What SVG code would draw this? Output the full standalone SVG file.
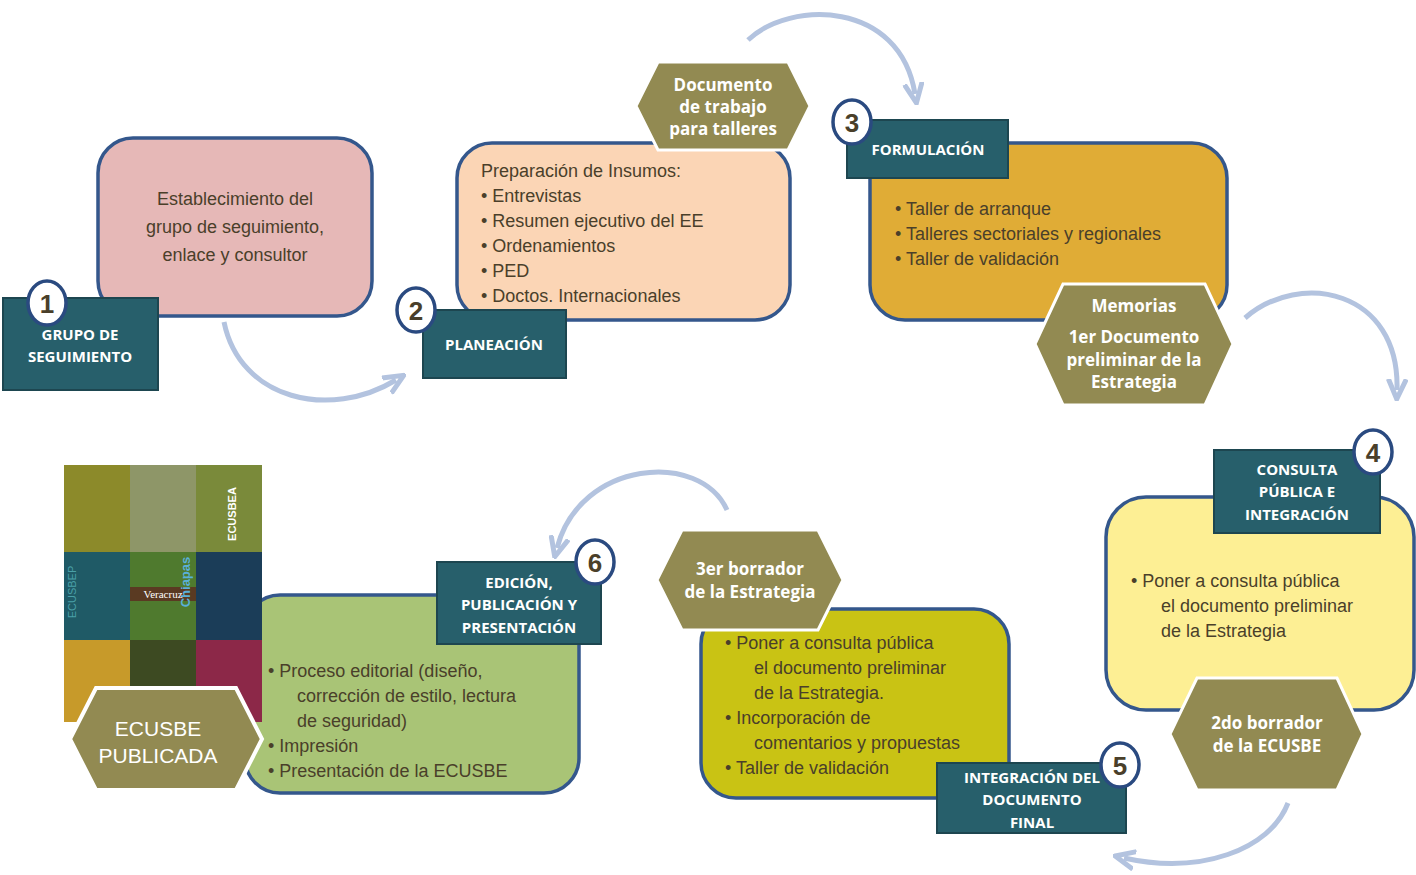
<svg xmlns="http://www.w3.org/2000/svg" width="1416" height="875" viewBox="0 0 1416 875">
<defs>
<marker id="ah" markerWidth="10" markerHeight="10" refX="5" refY="5" orient="auto" markerUnits="userSpaceOnUse" viewBox="0 0 10 10"><path d="M0,0 L10,5 L0,10 L3,5 Z" fill="#b3c3df"/></marker>
<marker id="ahb" markerWidth="22" markerHeight="22" refX="11" refY="11" orient="auto" markerUnits="userSpaceOnUse" viewBox="0 0 22 22"><path d="M0,2 L20,11 L0,20" fill="none" stroke="#b3c3df" stroke-width="5"/></marker>
</defs>
<style>
.box{stroke:#34578c;stroke-width:3.5}
.lab{fill:#275f6b;stroke:#1d4650;stroke-width:2}
.lt{fill:#fff;font-family:"Open Sans","Liberation Sans",sans-serif;font-weight:bold;font-size:15px;text-anchor:middle}
.hex{fill:#928a52;stroke:#fff;stroke-width:3}
.ht{fill:#fff;font-family:"Open Sans","Liberation Sans",sans-serif;font-weight:bold;font-size:17px;text-anchor:middle}
.bt{fill:#4a3f2a;font-family:"Liberation Sans",sans-serif;font-size:18px}
.num{fill:#fff;stroke:#2a4a80;stroke-width:3.5}
.nt{fill:#4a3f2a;font-family:"Liberation Sans",sans-serif;font-weight:bold;font-size:26px;text-anchor:middle}
.arr{fill:none;stroke:#b3c3df;stroke-width:5}
</style>
<rect width="1416" height="875" fill="#fff"/>
<g id="connectors">
<path class="arr" d="M224,322 C240,400 330,420 396,380" marker-end="url(#ahb)"/>
<path class="arr" d="M748,40 C790,0 900,0 915,94" marker-end="url(#ahb)"/>
<path class="arr" d="M1245,318 C1300,270 1400,290 1397,390" marker-end="url(#ahb)"/>
<path class="arr" d="M1288,803 C1270,850 1200,875 1124,858" marker-end="url(#ahb)"/>
<path class="arr" d="M727,510 C700,450 580,460 557,548" marker-end="url(#ahb)"/>
</g>
<g id="node1">
<rect class="box" x="98" y="138" width="274" height="178" rx="35" fill="#e6b8b7"/>
<text class="bt" font-size="21" text-anchor="middle" x="235"><tspan x="235" y="205">Establecimiento del</tspan><tspan x="235" y="233">grupo de seguimiento,</tspan><tspan x="235" y="261">enlace y consultor</tspan></text>
<rect class="lab" x="3" y="298" width="155" height="92"/>
<text class="lt"><tspan x="80" y="340">GRUPO DE</tspan><tspan x="80" y="362">SEGUIMIENTO</tspan></text>
<ellipse class="num" cx="47" cy="303" rx="19" ry="22"/><text class="nt" x="47" y="313">1</text>
</g>
<g id="node2">
<rect class="box" x="457" y="143" width="333" height="177" rx="35" fill="#fbd5b5"/>
<text class="bt"><tspan x="481" y="177">Preparación de Insumos:</tspan><tspan x="481" y="202">•    Entrevistas</tspan><tspan x="481" y="227">•    Resumen ejecutivo del EE</tspan><tspan x="481" y="252">•    Ordenamientos</tspan><tspan x="481" y="277">•    PED</tspan><tspan x="481" y="302">•    Doctos. Internacionales</tspan></text>
<rect class="lab" x="423" y="310" width="143" height="68"/>
<text class="lt" x="494" y="350">PLANEACIÓN</text>
<ellipse class="num" cx="416" cy="310" rx="19" ry="22"/><text class="nt" x="416" y="320">2</text>
</g>
<g id="hex-doc">
<polygon class="hex" points="658,62 788,62 810,106 788,150 658,150 636,106"/>
<text class="ht"><tspan x="723" y="91">Documento</tspan><tspan x="723" y="113">de trabajo</tspan><tspan x="723" y="135">para talleres</tspan></text>
</g>
<g id="node3">
<rect class="box" x="870" y="143" width="357" height="177" rx="35" fill="#e0ac36"/>
<text class="bt"><tspan x="895" y="215">•    Taller de arranque</tspan><tspan x="895" y="240">•    Talleres sectoriales y  regionales</tspan><tspan x="895" y="265">•    Taller de validación</tspan></text>
<rect class="lab" x="847" y="120" width="161" height="58"/>
<text class="lt" x="928" y="155">FORMULACIÓN</text>
<ellipse class="num" cx="852" cy="122" rx="19" ry="22"/><text class="nt" x="852" y="132">3</text>
</g>
<g id="hex-mem">
<polygon class="hex" points="1063,284 1205,284 1233,344 1205,405 1063,405 1035,344"/>
<text class="ht"><tspan x="1134" y="312">Memorias</tspan><tspan x="1134" y="343">1er Documento</tspan><tspan x="1134" y="366">preliminar de la</tspan><tspan x="1134" y="388">Estrategia</tspan></text>
</g>
<g id="node4">
<rect class="box" x="1106" y="497" width="308" height="213" rx="40" fill="#fdef94"/>
<text class="bt"><tspan x="1131" y="587">•    Poner a consulta pública</tspan><tspan x="1161" y="612">el documento preliminar</tspan><tspan x="1161" y="637">de la Estrategia</tspan></text>
<rect class="lab" x="1214" y="450" width="166" height="83"/>
<text class="lt"><tspan x="1297" y="475">CONSULTA</tspan><tspan x="1297" y="497">PÚBLICA E</tspan><tspan x="1297" y="520">INTEGRACIÓN</tspan></text>
<ellipse class="num" cx="1373" cy="452" rx="19" ry="22"/><text class="nt" x="1373" y="462">4</text>
</g>
<g id="hex-2do">
<polygon class="hex" points="1197,678 1337,678 1363,734 1337,790 1197,790 1170,734"/>
<text class="ht"><tspan x="1267" y="729">2do borrador</tspan><tspan x="1267" y="752">de la ECUSBE</tspan></text>
</g>
<g id="node5">
<rect class="box" x="701" y="609" width="308" height="189" rx="35" fill="#c9c314"/>
<text class="bt"><tspan x="725" y="649">•    Poner a consulta pública</tspan><tspan x="754" y="674">el documento preliminar</tspan><tspan x="754" y="699">de la Estrategia.</tspan><tspan x="725" y="724">•    Incorporación de</tspan><tspan x="754" y="749">comentarios y propuestas</tspan><tspan x="725" y="774">•    Taller de validación</tspan></text>
<rect class="lab" x="937" y="763" width="189" height="70"/>
<text class="lt"><tspan x="1032" y="783">INTEGRACIÓN DEL</tspan><tspan x="1032" y="805">DOCUMENTO</tspan><tspan x="1032" y="828">FINAL</tspan></text>
<ellipse class="num" cx="1120" cy="765" rx="19" ry="22"/><text class="nt" x="1120" y="775">5</text>
</g>
<g id="hex-3er">
<polygon class="hex" points="682,530 818,530 843,580 818,630 682,630 657,580"/>
<text class="ht"><tspan x="750" y="575">3er borrador</tspan><tspan x="750" y="598">de la Estrategia</tspan></text>
</g>
<g id="node6">
<rect class="box" x="245" y="595" width="334" height="198" rx="35" fill="#a9c476"/>
<text class="bt"><tspan x="268" y="677">•    Proceso editorial (diseño,</tspan><tspan x="297" y="702">corrección de estilo, lectura</tspan><tspan x="297" y="727">de seguridad)</tspan><tspan x="268" y="752">•    Impresión</tspan><tspan x="268" y="777">•    Presentación de la ECUSBE</tspan></text>
<rect class="lab" x="437" y="562" width="164" height="82"/>
<text class="lt"><tspan x="519" y="588">EDICIÓN,</tspan><tspan x="519" y="610">PUBLICACIÓN Y</tspan><tspan x="519" y="633">PRESENTACIÓN</tspan></text>
<ellipse class="num" cx="595" cy="562" rx="19" ry="22"/><text class="nt" x="595" y="572">6</text>
</g>
<g id="collage">
<rect x="64" y="465" width="66" height="87" fill="#8c8a2a"/>
<rect x="130" y="465" width="66" height="87" fill="#8e9668"/>
<rect x="196" y="465" width="66" height="87" fill="#7a8a3a"/>
<rect x="64" y="552" width="66" height="88" fill="#1f5a66"/>
<rect x="130" y="552" width="66" height="88" fill="#4f7a2e"/>
<rect x="196" y="552" width="66" height="88" fill="#1b3d58"/>
<rect x="64" y="640" width="66" height="82" fill="#c79a2a"/>
<rect x="130" y="640" width="66" height="82" fill="#3d4a22"/>
<rect x="196" y="640" width="66" height="82" fill="#8c2848"/>
<rect x="130" y="587" width="66" height="14" fill="#5a3a22"/>
<text x="163" y="598" font-family="Liberation Serif,serif" font-size="11" fill="#fff" text-anchor="middle">Veracruz</text>
<text x="228" y="560" font-family="Liberation Sans,sans-serif" font-size="13" font-weight="bold" fill="#5ab0d8" transform="rotate(-90 220 590)" text-anchor="middle">Chiapas</text>
<text x="80" y="596" font-family="Liberation Sans,sans-serif" font-size="11" fill="#4aa0a8" transform="rotate(-90 76 596)" text-anchor="middle">ECUSBEP</text>
<text x="240" y="518" font-family="Liberation Sans,sans-serif" font-size="11" font-weight="bold" fill="#fff" transform="rotate(-90 236 518)" text-anchor="middle">ECUSBEA</text>
</g>
<g id="hex-pub">
<polygon points="96,688 236,688 262,739 236,790 96,790 70,739" fill="#928a52" stroke="#fff" stroke-width="4"/>
<text fill="#fff" font-family="Liberation Sans,sans-serif" font-size="21" text-anchor="middle"><tspan x="158" y="736">ECUSBE</tspan><tspan x="158" y="763">PUBLICADA</tspan></text>
</g>
</svg>
